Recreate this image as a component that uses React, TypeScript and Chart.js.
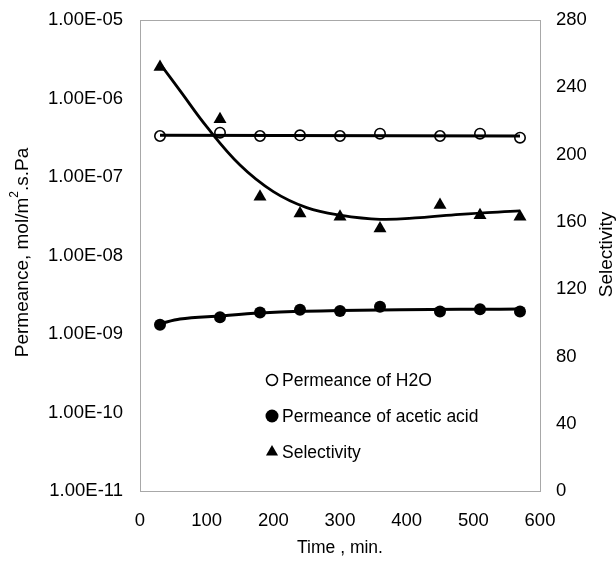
import React, { useEffect, useRef } from "react";
import { Chart, registerables } from "chart.js";

Chart.register(...registerables);

// Time (min)
const TIME = [30, 120, 180, 240, 300, 360, 450, 510, 570];
// Permeance of H2O (mol/m2.s.Pa)
const H2O = [3.33e-7, 3.67e-7, 3.33e-7, 3.4e-7, 3.33e-7, 3.56e-7, 3.33e-7, 3.56e-7, 3.17e-7];
// Permeance of acetic acid (mol/m2.s.Pa)
const ACETIC = [1.31e-9, 1.63e-9, 1.88e-9, 2.03e-9, 1.97e-9, 2.22e-9, 1.94e-9, 2.07e-9, 1.94e-9];
// Selectivity
const SELECTIVITY = [252, 221, 175, 165, 163, 156, 170, 164, 163];

// Trend lines
const H2O_FIT_TIME = [30, 570];
const H2O_FIT = [3.4e-7, 3.33e-7];
const ACETIC_FIT_TIME = [30, 60, 120, 180, 240, 300, 390, 480, 570];
const ACETIC_FIT = [1.36e-9, 1.55e-9, 1.7e-9, 1.85e-9, 1.95e-9, 1.99e-9, 2.03e-9, 2.06e-9, 2.08e-9];
const SEL_FIT_TIME = [30, 60, 100, 150, 200, 250, 300, 360, 420, 480, 570];
const SEL_FIT = [254, 238, 216.6, 193.8, 178, 168.5, 164, 161.5, 162.5, 164.5, 166.5];

// Axis tick values
const X_TICKS = [0, 100, 200, 300, 400, 500, 600];
const LOG_TICKS = [1e-11, 1e-10, 1e-9, 1e-8, 1e-7, 1e-6, 1e-5];
const SEL_TICKS = [0, 40, 80, 120, 160, 200, 240, 280];

const LEGEND_LABELS = ["Permeance of H2O", "Permeance of acetic acid", "Selectivity"];

const FONT = "'Liberation Sans', Arial, sans-serif";

const pts = (xs: number[], ys: number[]) => xs.map((x, i) => ({ x, y: ys[i] }));

const fmtSci = (v: number) => {
  const e = Math.round(Math.log10(v));
  const sign = e < 0 ? "-" : "+";
  return "1.00E" + sign + String(Math.abs(e)).padStart(2, "0");
};

const decorPlugin = {
  id: "decor",
  afterDraw(chart: any) {
    const { ctx, chartArea: ca } = chart;
    ctx.save();
    // frame
    ctx.strokeStyle = "#a8a8a8";
    ctx.lineWidth = 1;
    ctx.strokeRect(ca.left + 0.5, ca.top + 0.5, ca.right - ca.left, ca.bottom - ca.top);

    // Left title with superscript
    const midY = (ca.top + ca.bottom) / 2 - 3;
    ctx.fillStyle = "#000";
    ctx.textBaseline = "middle";
    ctx.save();
    ctx.translate(23, midY);
    ctx.rotate(-Math.PI / 2);
    const big = `19px ${FONT}`;
    const small = `12px ${FONT}`;
    const p1 = "Permeance, mol/m";
    const p2 = "2";
    const p3 = ".s.Pa";
    ctx.font = big;
    const w1 = ctx.measureText(p1).width;
    const w3 = ctx.measureText(p3).width;
    ctx.font = small;
    const w2 = ctx.measureText(p2).width;
    let x = -(w1 + w2 + w3) / 2;
    ctx.textAlign = "left";
    ctx.font = big;
    ctx.fillText(p1, x, 0);
    x += w1;
    ctx.font = small;
    ctx.fillText(p2, x, -8);
    x += w2;
    ctx.font = big;
    ctx.fillText(p3, x, 0);
    ctx.restore();

    // Right title
    ctx.save();
    ctx.translate(607, (ca.top + ca.bottom) / 2 - 1);
    ctx.rotate(-Math.PI / 2);
    ctx.font = `19px ${FONT}`;
    ctx.textAlign = "center";
    ctx.fillText("Selectivity", 0, 0);
    ctx.restore();

    // Legend
    const lx = 272;
    const rows = [380, 416, 452];
    ctx.font = `17.5px ${FONT}`;
    ctx.textAlign = "left";
    ctx.textBaseline = "middle";
    rows.forEach((ry, i) => {
      ctx.beginPath();
      if (i === 0) {
        ctx.arc(lx, ry, 5.5, 0, Math.PI * 2);
        ctx.fillStyle = "#fff";
        ctx.fill();
        ctx.lineWidth = 1.5;
        ctx.strokeStyle = "#000";
        ctx.stroke();
      } else if (i === 1) {
        ctx.arc(lx, ry, 6.5, 0, Math.PI * 2);
        ctx.fillStyle = "#000";
        ctx.fill();
      } else {
        const r = 7;
        ctx.moveTo(lx, ry - r);
        ctx.lineTo(lx + r * 0.866, ry + r * 0.5);
        ctx.lineTo(lx - r * 0.866, ry + r * 0.5);
        ctx.closePath();
        ctx.fillStyle = "#000";
        ctx.fill();
      }
      ctx.fillStyle = "#000";
      ctx.fillText(LEGEND_LABELS[i], lx + 10, ry + 1);
    });
    ctx.restore();
  },
};

export default function App() {
  const ref = useRef<HTMLCanvasElement | null>(null);

  useEffect(() => {
    if (!ref.current) return;
    const tickFont = { family: FONT, size: 18.5 };
    const chart = new Chart(ref.current, {
      type: "scatter",
      data: {
        datasets: [
          {
            label: "H2O fit",
            data: pts(H2O_FIT_TIME, H2O_FIT),
            yAxisID: "y",
            showLine: true,
            borderColor: "#000",
            borderWidth: 3,
            pointRadius: 0,
          },
          {
            label: "acetic fit",
            data: pts(ACETIC_FIT_TIME, ACETIC_FIT),
            yAxisID: "y",
            showLine: true,
            borderColor: "#000",
            borderWidth: 3,
            pointRadius: 0,
            cubicInterpolationMode: "monotone",
          },
          {
            label: "sel fit",
            data: pts(SEL_FIT_TIME, SEL_FIT),
            yAxisID: "y2",
            showLine: true,
            borderColor: "#000",
            borderWidth: 2.8,
            pointRadius: 0,
            tension: 0.4,
          },
          {
            label: LEGEND_LABELS[0],
            data: pts(TIME, H2O),
            yAxisID: "y",
            showLine: false,
            pointStyle: "circle",
            pointRadius: 5.2,
            pointBorderWidth: 1.6,
            pointBorderColor: "#000",
            pointBackgroundColor: "#fff",
          },
          {
            label: LEGEND_LABELS[1],
            data: pts(TIME, ACETIC),
            yAxisID: "y",
            showLine: false,
            pointStyle: "circle",
            pointRadius: 6,
            pointBorderWidth: 0,
            pointBackgroundColor: "#000",
          },
          {
            label: LEGEND_LABELS[2],
            data: pts(TIME, SELECTIVITY),
            yAxisID: "y2",
            showLine: false,
            pointStyle: "triangle",
            pointRadius: 7.5,
            pointBorderWidth: 0,
            pointBackgroundColor: "#000",
          },
        ],
      },
      options: {
        animation: false,
        responsive: true,
        maintainAspectRatio: false,
        layout: { padding: { top: 20, left: 0, right: 0, bottom: 0 } },
        plugins: { legend: { display: false }, tooltip: { enabled: false } },
        scales: {
          x: {
            type: "linear",
            min: 0,
            max: 600,
            afterBuildTicks: (s: any) => {
              s.ticks = X_TICKS.map((v) => ({ value: v }));
            },
            ticks: { font: tickFont, color: "#000", padding: 19, maxRotation: 0 },
            grid: { display: false, drawTicks: false },
            border: { display: false },
            title: {
              display: true,
              text: "Time , min.",
              font: { family: FONT, size: 17.5 },
              color: "#000",
              padding: { top: 0, bottom: 2 },
            },
            afterFit: (s: any) => {
              s.height = 70;
              s.paddingLeft = 0;
              s.paddingRight = 0;
            },
          },
          y: {
            type: "logarithmic",
            position: "left",
            min: 1e-11,
            max: 1e-5,
            afterBuildTicks: (s: any) => {
              s.ticks = LOG_TICKS.map((v) => ({ value: v }));
            },
            ticks: {
              font: tickFont,
              color: "#000",
              padding: 17,
              callback: (v: any) => fmtSci(Number(v)),
            },
            grid: { display: false, drawTicks: false },
            border: { display: false },
            afterFit: (s: any) => {
              s.width = 140;
              s.paddingTop = 0;
              s.paddingBottom = 0;
            },
          },
          y2: {
            type: "linear",
            position: "right",
            min: 0,
            max: 280,
            afterBuildTicks: (s: any) => {
              s.ticks = SEL_TICKS.map((v) => ({ value: v }));
            },
            ticks: { font: tickFont, color: "#000", padding: 16 },
            grid: { display: false, drawTicks: false },
            border: { display: false },
            afterFit: (s: any) => {
              s.width = 76;
              s.paddingTop = 0;
              s.paddingBottom = 0;
            },
          },
        },
      },
      plugins: [decorPlugin],
    } as any);
    return () => chart.destroy();
  }, []);

  return (
    <div style={{ position: "fixed", left: 0, top: 0, width: 616, height: 561, background: "#fff" }}>
      <canvas ref={ref} width={616} height={561} />
    </div>
  );
}
